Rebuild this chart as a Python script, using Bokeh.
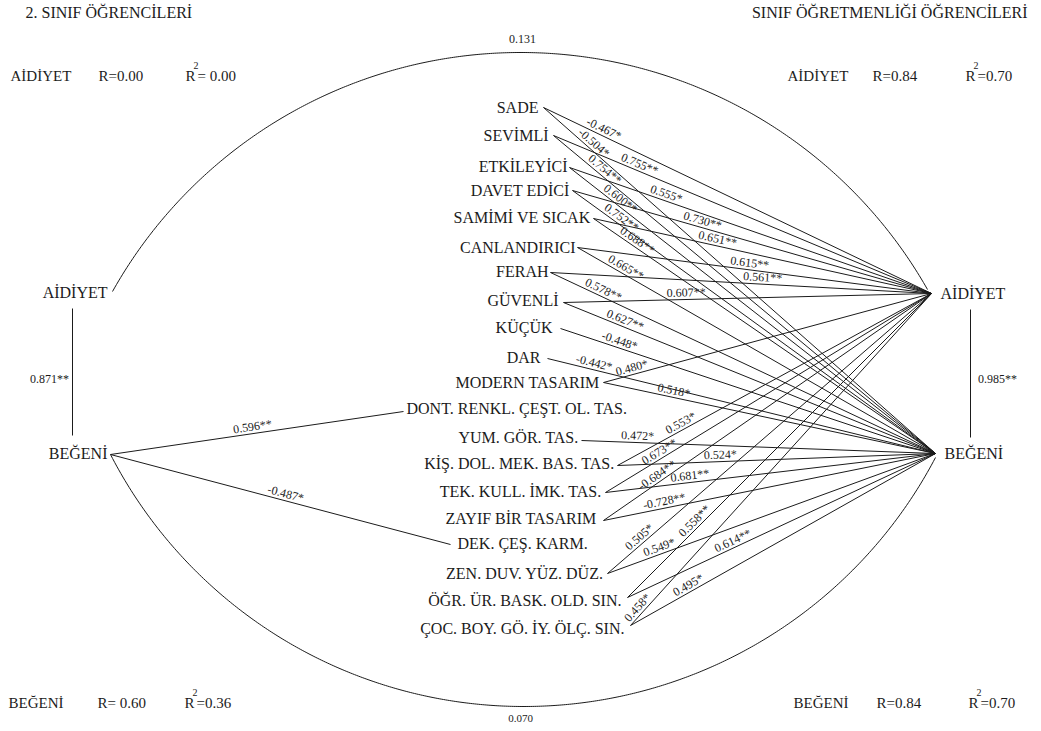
import numpy as np
from bokeh.plotting import figure
from bokeh.models import Range1d
from bokeh.core.properties import value
from bokeh.embed import file_html
from bokeh.resources import INLINE

FONT = "Liberation Serif"
INK = "#1b1b1b"

# ---------------- data ----------------
items = ["SADE", "SEVİMLİ", "ETKİLEYİCİ", "DAVET EDİCİ", "SAMİMİ VE SICAK",
         "CANLANDIRICI", "FERAH", "GÜVENLİ", "KÜÇÜK", "DAR", "MODERN TASARIM",
         "YUM. GÖR. TAS.", "KİŞ. DOL. MEK. BAS. TAS.", "TEK. KULL. İMK. TAS.",
         "ZAYIF BİR TASARIM", "ZEN. DUV. YÜZ. DÜZ.", "ÖĞR. ÜR. BASK. OLD. SIN.",
         "ÇOC. BOY. GÖ. İY. ÖLÇ. SIN."]
coef_aidiyet = ["-0.467*", "0.755**", "0.555*", "0.730**", "0.651**", "0.615**",
                "0.561**", "0.607**", None, None, "0.480*", None, "0.553*",
                "0.673**", "-0.684**", "0.505*", "0.558**", "0.458*"]
coef_begeni = ["-0.504*", "0.754**", "0.600**", "0.752**", "0.688**", "0.665**",
               "0.578**", "0.627**", "-0.448*", "-0.442*", "0.518*", "0.472*",
               "0.524*", "0.681**", "-0.728**", "0.549*", "0.614**", "0.495*"]
left_items = ["DONT. RENKL. ÇEŞT. OL. TAS.", "DEK. ÇEŞ. KARM."]
coef_left = ["0.596**", "-0.487*"]
corr_left = "0.871**"
corr_right = "0.985**"
arc_top_value = "0.131"
arc_bottom_value = "0.070"
group_titles = ["2. SINIF ÖĞRENCİLERİ", "SINIF ÖĞRETMENLİĞİ  ÖĞRENCİLERİ"]
stat_names = ["AİDİYET", "AİDİYET", "BEĞENİ", "BEĞENİ"]
stat_r = ["R=0.00", "R=0.84", "R= 0.60", "R=0.84"]
stat_r2 = ["= 0.00", "=0.70", "=0.36", "=0.70"]

# ---------------- layout (screen px) ----------------
item_ax = [543, 553, 569, 572, 593, 577, 550, 563, 560, 547, 603,
           581, 617, 605, 603, 607, 627, 630]
item_ay = [107, 135, 167, 190, 218, 247, 272, 302, 328, 358, 382,
           440, 465, 492, 520, 573, 597, 625]
item_tx = [538, 548, 567, 569, 590, 575, 548, 558, 552, 540, 599,
           578, 614, 601, 596, 603, 621, 624]
item_ty = [107, 135, 166, 190, 217, 247, 271, 300, 327, 357, 382,
           437, 463, 491, 518, 573, 600, 628]
t_aid = [0.148, 0.221, 0.261, 0.357, 0.363, 0.484, 0.556, 0.334, 0, 0, 0.092,
         0, 0.212, 0.176, 0.175, 0.112, 0.236, 0.04]
t_beg = [0.117, 0.123, 0.128, 0.124, 0.117, 0.126, 0.13, 0.159, 0.152, 0.116,
         0.208, 0.158, 0.324, 0.258, 0.187, 0.165, 0.351, 0.2]

R_AID = (931, 293)
R_BEG = (935, 453)
L_AID = (112, 291)
L_BEG = (110, 454)
left_end = [(403, 411), (450, 544)]
left_tx = [406, 457]
left_ty = [408, 543]
t_left = [0.488, 0.51]

W, H = 1041, 731
p = figure(width=W, height=H, x_range=Range1d(0, W), y_range=Range1d(H, 0),
           x_axis_type=None, y_axis_type=None, toolbar_location=None,
           output_backend="svg", min_border=0, outline_line_color=None,
           background_fill_color="white", border_fill_color="white")
p.xgrid.visible = False
p.ygrid.visible = False


def txt(x, y, s, size=16, align="left", baseline="middle", angle=0.0):
    p.text(x=[x], y=[y], text=[s], text_font=value(FONT), text_font_size=f"{size}px",
           text_align=align, text_baseline=baseline, text_color=INK, angle=angle)


def edge_label(x0, y0, x1, y1, t, s, off=7, size=12):
    dx, dy = x1 - x0, y1 - y0
    L = np.hypot(dx, dy)
    nx, ny = dy / L, -dx / L
    cx = x0 + t * dx + off * nx
    cy = y0 + t * dy + off * ny
    ang = -np.arctan2(dy, dx)
    txt(cx, cy, s, size=size, align="center", angle=ang)


xs, ys = [], []
for i, name in enumerate(items):
    ax, ay = item_ax[i], item_ay[i]
    if coef_aidiyet[i] is not None:
        xs.append([ax, R_AID[0]]); ys.append([ay, R_AID[1]])
        edge_label(ax, ay, R_AID[0], R_AID[1], t_aid[i], coef_aidiyet[i])
    if coef_begeni[i] is not None:
        xs.append([ax, R_BEG[0]]); ys.append([ay, R_BEG[1]])
        edge_label(ax, ay, R_BEG[0], R_BEG[1], t_beg[i], coef_begeni[i])
    txt(item_tx[i], item_ty[i], name, size=16, align="right")

for j, name in enumerate(left_items):
    ex, ey = left_end[j]
    xs.append([L_BEG[0], ex]); ys.append([L_BEG[1], ey])
    edge_label(L_BEG[0], L_BEG[1], ex, ey, t_left[j], coef_left[j])
    txt(left_tx[j], left_ty[j], name, size=16, align="left")

# vertical links
xs.append([72, 72]); ys.append([308, 435])
xs.append([970, 970]); ys.append([309, 437])
p.multi_line(xs, ys, line_color=INK, line_width=1)
txt(49, 378, corr_left, size=12, align="center")
txt(997, 378, corr_right, size=12, align="center")


def arc(pa, pb, apex_y):
    x1, y1 = pa
    x2, y2 = pb
    xm = (x1 + x2) / 2.0
    A = np.array([[2 * (x2 - x1), 2 * (y2 - y1)], [2 * (xm - x1), 2 * (apex_y - y1)]])
    b = np.array([x2**2 - x1**2 + y2**2 - y1**2, xm**2 - x1**2 + apex_y**2 - y1**2])
    cx, cy = np.linalg.solve(A, b)
    r = np.hypot(x1 - cx, y1 - cy)
    xx = np.linspace(x1, x2, 400)
    sgn = -1 if apex_y < cy else 1
    yy = cy + sgn * np.sqrt(np.clip(r**2 - (xx - cx) ** 2, 0, None))
    p.line(xx, yy, line_color=INK, line_width=1)


arc(L_AID, (927, 289), 52)
arc(L_BEG, (935, 457), 706)
txt(522, 38, arc_top_value, size=12, align="center")
txt(520, 718, arc_bottom_value, size=11, align="center")

# node labels
txt(107, 292, "AİDİYET", size=16, align="right")
txt(107, 453, "BEĞENİ", size=16, align="right")
txt(940, 293, "AİDİYET", size=16, align="left")
txt(944, 453, "BEĞENİ", size=16, align="left")

# titles
txt(25, 12, group_titles[0], size=16, align="left")
txt(1031, 12, group_titles[1], size=16, align="right")

# stats
sx_name = [10, 787, 8, 793]
sx_r = [98, 872, 97, 876]
sx_R = [185, 965, 184, 968]
sy = [75, 75, 702, 702]
for k in range(4):
    txt(sx_name[k], sy[k], stat_names[k], size=15)
    txt(sx_r[k], sy[k], stat_r[k], size=15)
    txt(sx_R[k], sy[k], "R", size=15)
    txt(sx_R[k] + 8, sy[k] - 10, "2", size=10)
    txt(sx_R[k] + 12, sy[k], stat_r2[k], size=15)

open("out.html", "w").write(file_html(p, INLINE))
